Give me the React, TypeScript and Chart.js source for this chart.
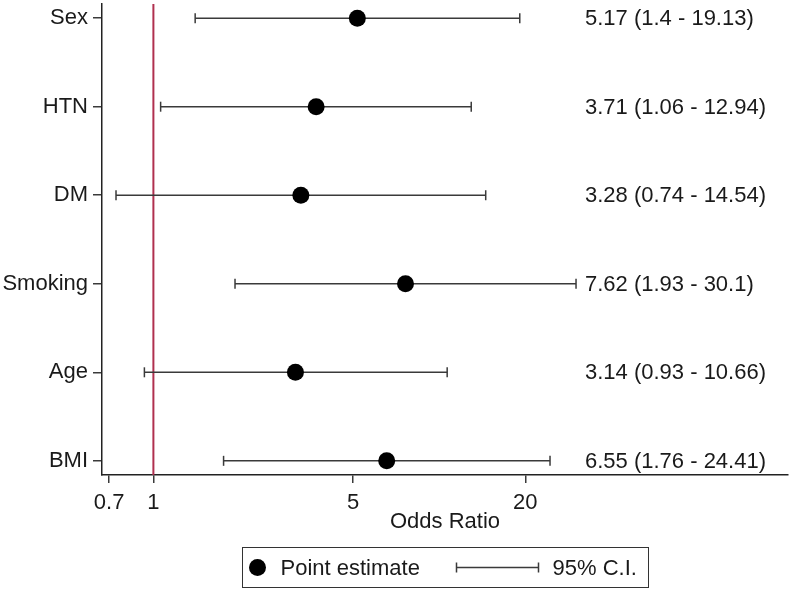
import React, { useEffect, useRef } from "react";
import { Chart, registerables } from "chart.js";

Chart.register(...registerables);

const categories = ["Sex", "HTN", "DM", "Smoking", "Age", "BMI"];
const oddsRatios = [5.17, 3.71, 3.28, 7.62, 3.14, 6.55];
const lowerCI = [1.4, 1.06, 0.74, 1.93, 0.93, 1.76];
const upperCI = [19.13, 12.94, 14.54, 30.1, 10.66, 24.41];
const xTicks = [0.7, 1, 5, 20];
const referenceValue = 1;

const FONT = "'Liberation Sans', Arial, Helvetica, sans-serif";
const TEXT = "#1a1a1a";
const LINE = "#3a3a3a";

const X_MIN = 0.661;
const X_MAX = 166;
const Y_MIN = 0.84;
const Y_MAX = 6.16;

const rowY = (i: number) => categories.length - i;

const labelPlugin = {
  id: "forestExtras",
  afterDraw(chart: any) {
    const { ctx, chartArea, scales } = chart;
    const y = scales.y;
    ctx.save();
    ctx.font = `22px ${FONT}`;
    ctx.fillStyle = TEXT;
    ctx.textAlign = "left";
    ctx.textBaseline = "middle";
    categories.forEach((_, i) => {
      const text = `${oddsRatios[i]} (${lowerCI[i]} - ${upperCI[i]})`;
      ctx.fillText(text, chartArea.left + 483, y.getPixelForValue(rowY(i)) + 1);
    });

    // legend
    const cx = (chartArea.left + chartArea.right) / 2;
    const boxW = 406;
    const boxH = 40;
    const bx = Math.round(cx - boxW / 2) + 0.5;
    const by = 547.5;
    ctx.strokeStyle = "#333";
    ctx.lineWidth = 1;
    ctx.strokeRect(bx, by, boxW, boxH);
    const my = by + boxH / 2;
    ctx.fillStyle = "#000";
    ctx.beginPath();
    ctx.arc(bx + 15, my, 8.5, 0, Math.PI * 2);
    ctx.fill();
    ctx.fillStyle = TEXT;
    ctx.fillText("Point estimate", bx + 38, my + 1);
    ctx.strokeStyle = LINE;
    ctx.lineWidth = 1.5;
    ctx.beginPath();
    ctx.moveTo(bx + 214, my);
    ctx.lineTo(bx + 296, my);
    ctx.moveTo(bx + 214, my - 5);
    ctx.lineTo(bx + 214, my + 5);
    ctx.moveTo(bx + 296, my - 5);
    ctx.lineTo(bx + 296, my + 5);
    ctx.stroke();
    ctx.fillText("95% C.I.", bx + 310, my + 1);
    ctx.restore();
  },
};

export default function App() {
  const canvasRef = useRef<HTMLCanvasElement | null>(null);

  useEffect(() => {
    if (!canvasRef.current) return;
    const ciDatasets = categories.map((c, i) => ({
      label: `${c} CI`,
      data: [
        { x: lowerCI[i], y: rowY(i) },
        { x: upperCI[i], y: rowY(i) },
      ],
      showLine: true,
      borderColor: LINE,
      borderWidth: 1.5,
      pointStyle: "line",
      pointRotation: 90,
      pointRadius: 5,
      pointBorderWidth: 1.5,
      pointBorderColor: LINE,
      order: 1,
    }));

    const chart = new Chart(canvasRef.current, {
      type: "scatter",
      data: {
        datasets: [
          {
            label: "Point estimate",
            data: categories.map((_, i) => ({ x: oddsRatios[i], y: rowY(i) })),
            pointRadius: 8.5,
            pointBackgroundColor: "#000",
            pointBorderColor: "#000",
            pointBorderWidth: 0,
            order: 0,
          },
          ...ciDatasets,
          {
            label: "Reference",
            data: [
              { x: referenceValue, y: Y_MIN },
              { x: referenceValue, y: Y_MAX },
            ],
            showLine: true,
            borderColor: "#b0304f",
            borderWidth: 2,
            pointRadius: 0,
            order: 2,
          },
        ] as any,
      },
      options: {
        animation: false,
        responsive: false,
        events: [],
        layout: { autoPadding: false, padding: { top: 4, right: 3, left: 0, bottom: 0 } },
        plugins: {
          legend: { display: false },
          tooltip: { enabled: false },
        },
        scales: {
          x: {
            type: "logarithmic",
            min: X_MIN,
            max: X_MAX,
            afterBuildTicks: (scale: any) => {
              scale.ticks = xTicks.map((v) => ({ value: v }));
            },
            afterFit: (scale: any) => {
              scale.height = 115;
              scale.paddingLeft = 0;
              scale.paddingRight = 0;
            },
            ticks: {
              autoSkip: false,
              maxRotation: 0,
              padding: 7,
              color: TEXT,
              font: { family: FONT, size: 22 },
              callback: (v: any) => String(v),
            },
            grid: {
              display: true,
              drawOnChartArea: false,
              drawTicks: true,
              tickLength: 8,
              color: LINE,
              lineWidth: 1.5,
            },
            border: { display: true, color: "#222", width: 1.5 },
            title: {
              display: true,
              text: "Odds Ratio",
              color: TEXT,
              font: { family: FONT, size: 22 },
              padding: { top: 0, bottom: 55 },
            },
          },
          y: {
            type: "linear",
            min: Y_MIN,
            max: Y_MAX,
            afterBuildTicks: (scale: any) => {
              scale.ticks = categories.map((_, i) => ({ value: rowY(i) }));
            },
            afterFit: (scale: any) => {
              scale.width = 102;
              scale.paddingTop = 0;
              scale.paddingBottom = 0;
            },
            ticks: {
              autoSkip: false,
              padding: 5,
              color: TEXT,
              font: { family: FONT, size: 22 },
              callback: (v: any) => categories[categories.length - Number(v)] ?? "",
            },
            grid: {
              display: true,
              drawOnChartArea: false,
              drawTicks: true,
              tickLength: 9,
              color: LINE,
              lineWidth: 1.5,
            },
            border: { display: true, color: "#222", width: 1.5 },
          },
        },
      } as any,
      plugins: [labelPlugin],
    });
    return () => chart.destroy();
  }, []);

  return (
    <div style={{ position: "absolute", left: 0, top: 0, width: 791, height: 590, background: "#fff" }}>
      <canvas ref={canvasRef} width={791} height={590} style={{ display: "block" }} />
    </div>
  );
}
